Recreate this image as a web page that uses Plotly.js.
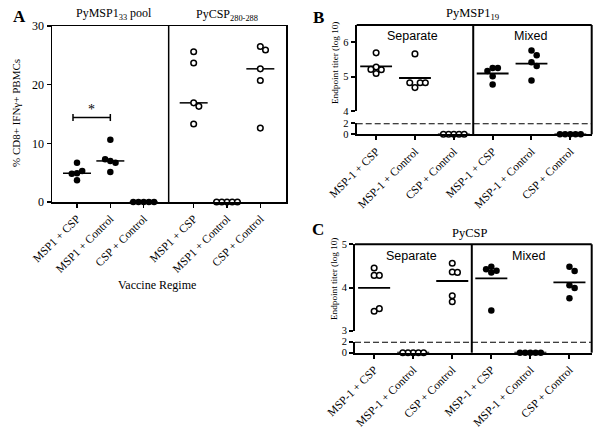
<!DOCTYPE html>
<html><head><meta charset="utf-8">
<script src="https://cdn.plot.ly/plotly-3.0.1.min.js"></script>
<style>html,body{margin:0;padding:0;background:#fff}#chart{width:600px;height:430px}</style>
</head><body><div id="chart"></div>
<script>
// ================= DATA =================
const catsA  = ["MSP1 + CSP", "MSP1 + Control", "CSP + Control", "MSP1 + CSP", "MSP1 + Control", "CSP + Control"];
const catsBC = ["MSP-1 + CSP", "MSP-1 + Control", "CSP + Control", "MSP-1 + CSP", "MSP-1 + Control", "CSP + Control"];
const groupTitlesA = ["PyMSP1<sub>33</sub> pool", "PyCSP<sub>280-288</sub>"];
const sectionLabels = ["Separate", "Mixed"];
const panelTitles = ["PyMSP1<sub>19</sub>", "PyCSP"];

// Panel A: % CD8+ IFNγ+ PBMCs (groups in category order)
const aMsp1CspPool   = [6.7, 4.9, 3.7, 5.3, 4.8];
const aMsp1CtrlPool  = [10.6, 7.0, 6.7, 7.3, 5.1];
const aCspCtrlPool   = [0, 0, 0, 0, 0];
const aMsp1CspCsp    = [25.6, 23.7, 16.9, 16.3, 13.3];
const aMsp1CtrlCsp   = [0, 0, 0, 0, 0];
const aCspCtrlCsp    = [26.5, 25.9, 22.7, 20.7, 12.6];
const aCentre        = [4.9, 7.0, 0, 16.9, 0, 22.7];
const aSigLevel      = 14.4;   // bracket height (group 1 vs 2)

// Panel B: PyMSP1-19 endpoint titer (log10)
const bSepMsp1Csp  = [5.69, 5.28, 5.20, 5.21, 5.09];
const bSepMsp1Ctrl = [5.66, 4.68, 4.82, 4.82, 4.82];
const bSepCspCtrl  = [0, 0, 0, 0, 0];
const bMixMsp1Csp  = [5.25, 5.25, 5.16, 5.01, 4.77];
const bMixMsp1Ctrl = [5.76, 5.62, 5.42, 5.31, 4.89];
const bMixCspCtrl  = [0, 0, 0, 0, 0];
const bMeans       = [5.30, 4.96, 0, 5.09, 5.38, 0];

// Panel C: PyCSP endpoint titer (log10)
const cSepMsp1Csp  = [4.28, 4.28, 4.45, 3.45, 3.51];
const cSepMsp1Ctrl = [0, 0, 0, 0, 0];
const cSepCspCtrl  = [4.56, 4.36, 4.35, 3.81, 3.67];
const cMixMsp1Csp  = [4.48, 4.39, 4.42, 4.35, 3.47];
const cMixMsp1Ctrl = [0, 0, 0, 0, 0];
const cMixCspCtrl  = [4.48, 4.38, 4.05, 3.99, 3.75];
const cMeans       = [3.99, 0, 4.15, 4.21, 0, 4.12];

const cutoff = 2;       // dashed detection line (log10)
const yTicksA = [0, 10, 20, 30];
const yTicksBup = [4, 5, 6], yTicksBlo = [0, 2];
const yTicksCup = [3, 4, 5], yTicksClo = [0, 2];

// ================= GEOMETRY / STYLE =================
const W = 600, H = 430;
const SERIF = "Liberation Serif, Times New Roman, serif";
const SANS = "Liberation Sans, Arial, sans-serif";
const fx = p => p / W, fy = p => 1 - p / H;

const posA = [0, 1, 2, 3.5, 4.5, 5.5];
const posBC = [0, 1, 2, 3, 4, 5];
const A = {l: 52, r: 286, t: 26, b: 202, xr: [-0.75, 6.27], yr: [0, 30]};
const B = {l: 356.7, r: 591.7, t: 25, mid: 111, lt: 123.3, b: 134.3, xr: [-0.5, 5.55], yup: [4, 6.5], ylo: [0, 2]};
const C = {l: 355, r: 591.7, t: 244.3, mid: 330.7, lt: 341.7, b: 352.7, xr: [-0.49, 5.57], yup: [3, 5], ylo: [0, 2]};

const D = 5.2; // swarm spacing (px)
function swarm(vals, pxX, pxY) {
  const placed = [], offs = [];
  vals.forEach(v => {
    const y = v * pxY;
    for (let k = 0; k < 60; k++) {
      const c = k === 0 ? 0 : (k % 2 ? 1 : -1) * Math.ceil(k / 2) * D;
      if (placed.every(p => Math.hypot(p[0] - c, p[1] - y) >= D - 1e-6)) {
        placed.push([c, y]); offs.push(c / pxX); break;
      }
    }
  });
  return offs;
}

const traces = [];
const black = "#000";
function addGroup(vals, pos, pxX, pxY, filled, xa, yaUp, yaLo, breakAt, hw, centre, lw) {
  const offs = swarm(vals, pxX, pxY);
  const cy = centre;
  traces.push({x: [pos - hw, pos + hw], y: [cy, cy], mode: "lines", xaxis: xa,
    yaxis: (yaLo && cy < breakAt) ? yaLo : yaUp, line: {color: black, width: lw},
    cliponaxis: false, hoverinfo: "skip"});
  const up = {x: [], y: []}, lo = {x: [], y: []};
  vals.forEach((v, i) => {
    const tgt = (yaLo && v < breakAt) ? lo : up;
    tgt.x.push(pos + offs[i]); tgt.y.push(v);
  });
  const mk = filled ? {color: black, size: 6.5, line: {width: 0}}
                    : {color: "#fff", size: 5.6, line: {color: black, width: 1.5}};
  [[up, yaUp], [lo, yaLo]].forEach(([d, ya]) => {
    if (d.x.length) traces.push({x: d.x, y: d.y, mode: "markers", xaxis: xa, yaxis: ya,
      marker: mk, cliponaxis: false});
  });
}

// Panel A
const pxXA = (A.r - A.l) / (A.xr[1] - A.xr[0]);
const pxYA = (A.b - A.t) / (A.yr[1] - A.yr[0]);
const groupsA = [aMsp1CspPool, aMsp1CtrlPool, aCspCtrlPool, aMsp1CspCsp, aMsp1CtrlCsp, aCspCtrlCsp];
groupsA.forEach((g, i) => addGroup(g, posA[i], pxXA, pxYA, i < 3, "x", "y", null, 0, 0.42, aCentre[i], 1.5));

// Panel B
const pxXB = (B.r - B.l) / (B.xr[1] - B.xr[0]);
const pxYB = (B.mid - B.t) / (B.yup[1] - B.yup[0]);
const groupsB = [bSepMsp1Csp, bSepMsp1Ctrl, bSepCspCtrl, bMixMsp1Csp, bMixMsp1Ctrl, bMixCspCtrl];
groupsB.forEach((g, i) => addGroup(g, posBC[i], pxXB, pxYB, i >= 3, "x2", "y2", "y3", B.yup[0], 0.41, bMeans[i], 1.8));

// Panel C
const pxXC = (C.r - C.l) / (C.xr[1] - C.xr[0]);
const pxYC = (C.mid - C.t) / (C.yup[1] - C.yup[0]);
const groupsC = [cSepMsp1Csp, cSepMsp1Ctrl, cSepCspCtrl, cMixMsp1Csp, cMixMsp1Ctrl, cMixCspCtrl];
groupsC.forEach((g, i) => addGroup(g, posBC[i], pxXC, pxYC, i >= 3, "x3", "y4", "y5", C.yup[0], 0.41, cMeans[i], 1.8));

// ================= AXES =================
function xAx(P, tv, tt, anchor, lw, mirror, size) {
  return {domain: [fx(P.l), fx(P.r)], range: P.xr, anchor: anchor, tickvals: tv, ticktext: tt,
    tickangle: -45, ticks: "outside", ticklen: 4, tickwidth: lw, tickcolor: black,
    showline: true, linewidth: lw, linecolor: black, mirror: mirror, showgrid: false, zeroline: false,
    tickfont: {family: SERIF, size: size, color: black}, fixedrange: true};
}
function yAx(d0, d1, range, tv, anchor, lw, mirror, size) {
  return {domain: [fy(d0), fy(d1)], range: range, anchor: anchor, tickvals: tv,
    ticks: "outside", ticklen: 4, tickwidth: lw, tickcolor: black,
    showline: true, linewidth: lw, linecolor: black, mirror: mirror, showgrid: false, zeroline: false,
    tickfont: {family: SERIF, size: size, color: black}, fixedrange: true};
}

const lwBC = 2;
const shapes = [
  {type: "line", xref: "x", yref: "y", x0: 2.75, x1: 2.75, y0: A.yr[0], y1: A.yr[1], line: {color: black, width: 1.5}},
  {type: "line", xref: "x", yref: "y", x0: -0.12, x1: 1.0, y0: aSigLevel, y1: aSigLevel, line: {color: black, width: 1.5}},
  {type: "line", xref: "x", yref: "y", x0: -0.12, x1: -0.12, y0: aSigLevel - 0.6, y1: aSigLevel + 0.6, line: {color: black, width: 1.5}},
  {type: "line", xref: "x", yref: "y", x0: 1.0, x1: 1.0, y0: aSigLevel - 0.6, y1: aSigLevel + 0.6, line: {color: black, width: 1.5}},
];
[[B, "x2", "y3"], [C, "x3", "y5"]].forEach(([P, xa, ylo]) => {
  shapes.push({type: "line", xref: "paper", yref: "paper", x0: fx(P.l), x1: fx(P.r), y0: fy(P.t), y1: fy(P.t), line: {color: black, width: lwBC}});
  shapes.push({type: "line", xref: "paper", yref: "paper", x0: fx(P.r), x1: fx(P.r), y0: fy(P.t), y1: fy(P.b), line: {color: black, width: lwBC}});
  shapes.push({type: "line", xref: xa, yref: "paper", x0: 2.5, x1: 2.5, y0: fy(P.t), y1: fy(P.b), line: {color: black, width: lwBC}});
  shapes.push({type: "line", xref: xa + " domain", yref: ylo, x0: 0, x1: 1, y0: cutoff, y1: cutoff, line: {color: black, width: 2, dash: "6px,3px"}});
});

function ann(text, x, y, font, extra) {
  return Object.assign({text: text, x: fx(x), y: fy(y), xref: "paper", yref: "paper", showarrow: false,
    xanchor: "center", yanchor: "middle", font: font}, extra || {});
}
const annotations = [
  ann("<b>A</b>", 19, 16, {family: SERIF, size: 17, color: black}),
  ann("<b>B</b>", 318.5, 17, {family: SERIF, size: 17, color: black}),
  ann("<b>C</b>", 318, 229, {family: SERIF, size: 17, color: black}),
  ann(groupTitlesA[0], 114, 14, {family: SERIF, size: 12, color: black}),
  ann(groupTitlesA[1], 227, 15, {family: SERIF, size: 12, color: black}),
  ann(panelTitles[0], 472.5, 14, {family: SERIF, size: 12.5, color: black}),
  ann(panelTitles[1], 469, 233, {family: SERIF, size: 12.5, color: black}),
  ann(sectionLabels[0], 412, 36, {family: SANS, size: 12.5, color: black}),
  ann(sectionLabels[1], 530, 36, {family: SANS, size: 12.5, color: black}),
  ann(sectionLabels[0], 411, 256, {family: SANS, size: 12.5, color: black}),
  ann(sectionLabels[1], 528, 256, {family: SANS, size: 12.5, color: black}),
  ann("% CD8+ IFNγ+ PBMCs", 16, 113, {family: SERIF, size: 11, color: black}, {textangle: -90}),
  ann("Endpoint titer (log 10)", 335, 63, {family: SERIF, size: 9.2, color: black}, {textangle: -90}),
  ann("Endpoint titer (log 10)", 334, 279, {family: SERIF, size: 9.2, color: black}, {textangle: -90}),
  ann("Vaccine Regime", 157, 285, {family: SERIF, size: 12, color: black}),
  {text: "*", x: 0.44, y: aSigLevel, xref: "x", yref: "y", yshift: -1, showarrow: false,
   xanchor: "center", yanchor: "bottom", font: {family: SERIF, size: 14, color: black}}
];

const layout = {
  width: W, height: H, margin: {l: 0, r: 0, t: 0, b: 0}, showlegend: false,
  paper_bgcolor: "#fff", plot_bgcolor: "rgba(0,0,0,0)", font: {family: SERIF, color: black},
  xaxis: xAx(A, posA, catsA, "y", 1.5, true, 11.5),
  yaxis: yAx(A.b, A.t, A.yr, yTicksA, "x", 1.5, true, 12),
  xaxis2: xAx(B, posBC, catsBC, "y3", lwBC, false, 11.5),
  yaxis2: yAx(B.mid, B.t, B.yup, yTicksBup, "x2", lwBC, false, 10.5),
  yaxis3: yAx(B.b, B.lt, B.ylo, yTicksBlo, "x2", lwBC, false, 10.5),
  xaxis3: xAx(C, posBC, catsBC, "y5", lwBC, false, 11.5),
  yaxis4: yAx(C.mid, C.t, C.yup, yTicksCup, "x3", lwBC, false, 10.5),
  yaxis5: yAx(C.b, C.lt, C.ylo, yTicksClo, "x3", lwBC, false, 10.5),
  shapes: shapes, annotations: annotations
};
Plotly.newPlot("chart", traces, layout, {staticPlot: true, displayModeBar: false});
</script></body></html>
